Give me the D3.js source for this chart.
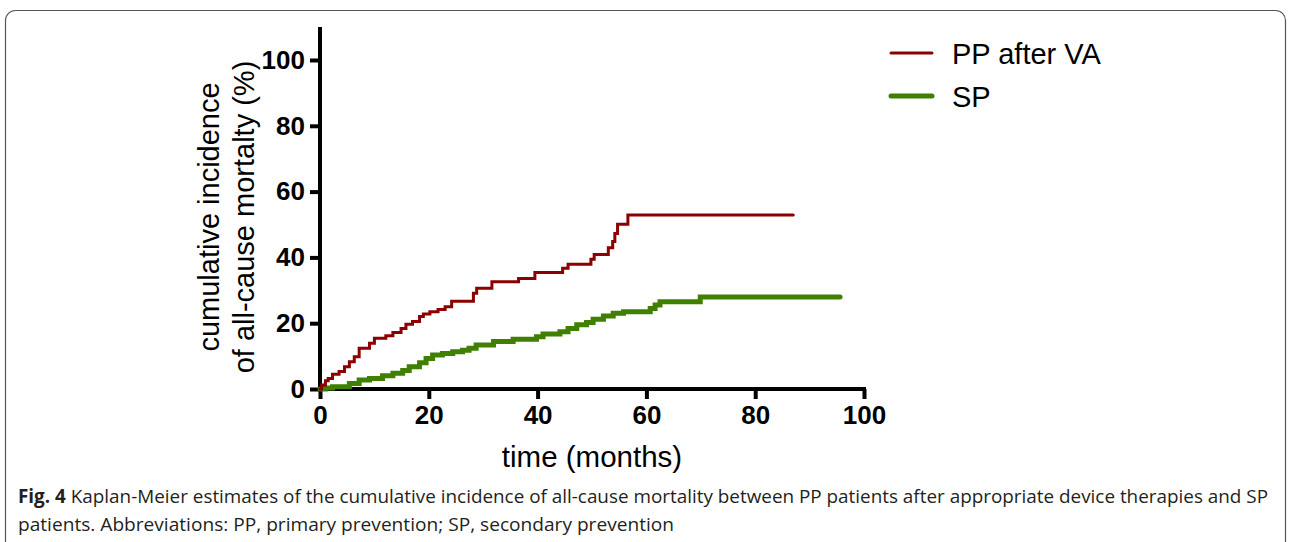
<!DOCTYPE html>
<html>
<head>
<meta charset="utf-8">
<script src="https://cdn.jsdelivr.net/npm/d3@7"></script>
<style>
  html, body { margin: 0; padding: 0; background: #fff; }
  svg { display: block; }
</style>
</head>
<body>
<svg id="chart" width="1290" height="542"></svg>
<script>
// ---- data ----
const seriesNames = ["PP after VA", "SP"];
const seriesColors = ["#8b0000", "#3f8000"];
const ppTime = [0, 0.3, 1, 1.5, 2.3, 3.5, 4.5, 5.4, 6.3, 7.2, 9.1, 10, 12.1, 13.4, 14.9, 15.8, 17, 18.3, 19, 20.2, 21.7, 23, 24.2, 28.2, 28.8, 31.6, 36.5, 39.5, 44.6, 45.6, 49.8, 50.4, 53, 53.8, 54.2, 54.7, 56.6, 87];
const ppValue = [0, 1.2, 2.5, 3.2, 4.5, 5.3, 6.8, 8.3, 9.8, 12.4, 13.9, 15.4, 16.2, 17.2, 18.4, 19.7, 20.5, 22, 22.8, 23.5, 24.2, 25, 26.7, 29.1, 30.6, 32.6, 33.6, 35.4, 36.7, 37.9, 39.4, 40.9, 42.9, 44.8, 47.3, 50.1, 52.9, 52.9];
const spTime = [0, 1, 2.3, 5.4, 7.2, 9.1, 11.5, 13.4, 15.2, 16.4, 18.3, 19.5, 20.7, 22.5, 24.4, 26.2, 27.4, 28.7, 31.9, 35.5, 39.8, 41, 44.1, 45.6, 47.2, 49, 50.2, 52.1, 53.9, 55.8, 60.7, 61.6, 62.5, 69.9, 95.6];
const spValue = [0, 0.3, 0.7, 1.7, 2.7, 3.2, 4, 4.8, 5.6, 6.8, 8, 9.3, 10.3, 10.8, 11.3, 11.8, 12.4, 13.4, 14.4, 15.1, 15.9, 16.7, 17.4, 18.4, 19.5, 20.2, 21.2, 22.2, 23, 23.5, 24.5, 25.5, 26.5, 28, 28];
const xTicks = [0, 20, 40, 60, 80, 100];
const yTicks = [0, 20, 40, 60, 80, 100];
const xTitle = "time (months)";
const yTitle = ["cumulative incidence", "of all-cause mortalty (%)"];
const captionBold = "Fig. 4";
const captionLine1 = " Kaplan-Meier estimates of the cumulative incidence of all-cause mortality between PP patients after appropriate device therapies and SP";
const captionLine2 = "patients. Abbreviations: PP, primary prevention; SP, secondary prevention";

// ---- layout ----
const svg = d3.select("#chart");
const x = d3.scaleLinear().domain([0, 100]).range([320, 864]);
const y = d3.scaleLinear().domain([0, 100]).range([389, 60]);

// frame
svg.append("rect").attr("x", 5.5).attr("y", 10.5).attr("width", 1280).attr("height", 545)
  .attr("rx", 10).attr("fill", "none").attr("stroke", "#555").attr("stroke-width", 1.2);

const font = "'Liberation Sans', Arial, sans-serif";

// axes
const xAxis = svg.append("g").attr("transform", `translate(0,${y(0)})`)
  .call(d3.axisBottom(x).tickValues(xTicks).tickSize(10).tickPadding(6));
const yAxis = svg.append("g").attr("transform", `translate(${x(0)},0)`)
  .call(d3.axisLeft(y).tickValues(yTicks).tickSize(10).tickPadding(5));
[xAxis, yAxis].forEach(g => {
  g.select(".domain").remove();
  g.selectAll(".tick line").attr("stroke", "#000").attr("stroke-width", 4);
  g.selectAll(".tick text").attr("fill", "#000").style("font-family", font)
    .style("font-weight", "bold").style("font-size", "26px");
});
xAxis.selectAll(".tick text").attr("dy", "0.72em");
// axis lines
svg.append("line").attr("x1", x(0)).attr("x2", x(0)).attr("y1", y(110)).attr("y2", y(0) + 2)
  .attr("stroke", "#000").attr("stroke-width", 4);
svg.append("line").attr("x1", x(0) - 2).attr("x2", x(100) + 2).attr("y1", y(0)).attr("y2", y(0))
  .attr("stroke", "#000").attr("stroke-width", 4);

// series
const line = d3.line().x(d => x(d[0])).y(d => y(d[1])).curve(d3.curveStepAfter);
const ppData = ppTime.map((t, i) => [t, ppValue[i]]);
const spData = spTime.map((t, i) => [t, spValue[i]]);
svg.append("path").attr("d", line(spData)).attr("fill", "none")
  .attr("stroke", seriesColors[1]).attr("stroke-width", 5).attr("stroke-linecap", "round");
svg.append("path").attr("d", line(ppData)).attr("fill", "none")
  .attr("stroke", seriesColors[0]).attr("stroke-width", 3).attr("stroke-linecap", "round");

// axis titles
svg.append("text").attr("x", 592).attr("y", 467).attr("text-anchor", "middle")
  .style("font-family", font).style("font-size", "29.5px").attr("fill", "#000").text(xTitle);
const yt = svg.append("text").attr("transform", "translate(219,217) rotate(-90)")
  .attr("text-anchor", "middle").style("font-family", font).style("font-size", "29px").attr("fill", "#000");
yt.append("tspan").attr("x", 0).attr("y", 0).text(yTitle[0]);
yt.append("tspan").attr("x", 0).attr("y", 35).text(yTitle[1]);

// legend
const legend = svg.append("g");
seriesNames.forEach((name, i) => {
  const ly = 53 + i * 43;
  legend.append("line").attr("x1", 891).attr("x2", 932).attr("y1", ly).attr("y2", ly)
    .attr("stroke", seriesColors[i]).attr("stroke-width", i === 0 ? 3 : 5).attr("stroke-linecap", "round");
  legend.append("text").attr("x", 952).attr("y", ly + 10.5).style("font-family", font)
    .style("font-size", "29px").attr("fill", "#000").text(name);
});

// caption
const cap1 = svg.append("text").attr("x", 18).attr("y", 503)
  .attr("textLength", 1250).attr("lengthAdjust", "spacingAndGlyphs")
  .style("font-family", "'Open Sans', sans-serif").style("font-size", "19px").attr("fill", "#231f20");
cap1.append("tspan").style("font-weight", "bold").text(captionBold);
cap1.append("tspan").text(captionLine1);
svg.append("text").attr("x", 18).attr("y", 531)
  .attr("textLength", 656).attr("lengthAdjust", "spacingAndGlyphs")
  .style("font-family", "'Open Sans', sans-serif").style("font-size", "19px").attr("fill", "#231f20")
  .text(captionLine2);
</script>
</body>
</html>
